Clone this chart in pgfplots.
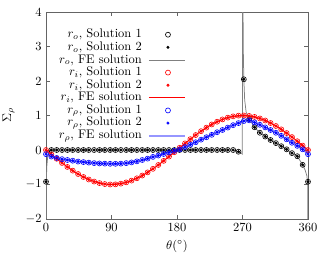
\documentclass[border=0pt]{standalone}
\usepackage{pgfplots}
\usepackage{pgfplotstable}
\pgfplotsset{compat=1.18}
\definecolor{axgray}{RGB}{100,100,100}
\definecolor{fegray}{RGB}{128,128,128}
\definecolor{lblue}{RGB}{150,150,255}
\definecolor{fered}{RGB}{255,0,0}
\pgfplotstableread{
th ro ri rp
0 -0.92 0 -0.12
7.347 0 -0.1279 -0.19
14.694 0 -0.2536 -0.23
22.041 0 -0.3753 -0.265
29.388 0 -0.4907 -0.29
36.735 0 -0.5981 -0.31
44.082 0 -0.6956 -0.335
51.429 0 -0.7818 -0.35
58.776 0 -0.8551 -0.365
66.122 0 -0.9144 -0.38
73.469 0 -0.9587 -0.39
80.816 0 -0.9872 -0.395
88.163 0 -0.9995 -0.40
95.510 0 -0.9954 -0.40
102.857 0 -0.9749 -0.395
110.204 0 -0.9385 -0.38
117.551 0 -0.8866 -0.36
124.898 0 -0.8202 -0.33
132.245 0 -0.7403 -0.29
139.592 0 -0.6482 -0.25
146.939 0 -0.5455 -0.20
154.286 0 -0.4339 -0.16
161.633 0 -0.3151 -0.115
168.980 0 -0.1912 -0.07
176.327 0 -0.0641 -0.025
183.673 0 0.0641 0.015
191.020 0 0.1912 0.085
198.367 0 0.3151 0.155
205.714 0 0.4339 0.225
213.061 0 0.5455 0.30
220.408 0 0.6482 0.37
227.755 0 0.7403 0.44
235.102 0 0.8202 0.515
242.449 0 0.8866 0.58
249.796 0 0.9385 0.65
257.143 0 0.9749 0.72
264.490 -0.05 0.9954 0.78
271.837 2.05 0.9995 0.84
279.184 0.90 0.9872 0.86
286.531 0.66 0.9587 0.80
293.878 0.50 0.9144 0.73
301.224 0.39 0.8551 0.655
308.571 0.29 0.7818 0.58
315.918 0.20 0.6956 0.50
323.265 0.11 0.5981 0.41
330.612 0.02 0.4907 0.31
337.959 -0.09 0.3753 0.21
345.306 -0.18 0.2536 0.12
352.653 -0.43 0.1279 0.02
360 -0.92 0 -0.12
}\pts
\pgfplotstableread{
th ro
0 -3
0.3 -1.2
1 -0.5
2.5 -0.15
5 -0.03
10 0
255 0
260 -0.02
265 -0.06
269 -0.1
269.8 -0.12
270 6
270.4 6
271.0 3.0
271.837 2.05
273 1.45
275 1.1
279.184 0.90
286.531 0.66
293.878 0.50
301.224 0.39
308.571 0.29
315.918 0.20
323.265 0.11
330.612 0.02
337.959 -0.09
345.306 -0.18
352.653 -0.43
356 -0.58
358.5 -0.75
359.6 -1.0
360 -3
}\fero
\pgfplotsset{
 solA/.style={only marks, mark=o, mark size=2bp, mark options={line width=0.5bp}},
 solB/.style={only marks, mark=*, mark size=1bp},
 feL/.style={no markers},
}
\begin{document}
\begin{tikzpicture}
\begin{axis}[
 at={(36.8bp,32.8bp)}, anchor=south west,
 scale only axis, width=209.6bp, height=165.6bp,
 xmin=0, xmax=360, ymin=-2, ymax=4,
 xtick={0,90,180,270,360}, ytick={-2,-1,0,1,2,3,4},
 tick align=inside, major tick length=3.2bp,
 axis line style={axgray, line width=0.7bp},
 every tick/.style={axgray, line width=0.6bp},
 xlabel={$\theta(^\circ)$}, ylabel={$\Sigma_\rho$},
 ylabel style={yshift=2bp},
]
% data
\addplot[solA, black] table[x=th, y=ro] {\pts};
\addplot[solB, black] table[x=th, y=ro] {\pts};
\addplot[feL, fegray, line width=0.6bp] table[x=th, y=ro] {\fero};
\addplot[solA, red] table[x=th, y=ri] {\pts};
\addplot[solB, red] table[x=th, y=ri] {\pts};
\addplot[feL, draw=fered, line width=0.8bp] table[x=th, y=ri] {\pts};
\addplot[solA, blue] table[x=th, y=rp] {\pts};
\addplot[solB, blue] table[x=th, y=rp] {\pts};
\addplot[feL, lblue, line width=1.5bp] table[x=th, y=rp] {\pts};
% legend samples
\addplot[solA, black] coordinates {(167.6,3.342)};
\addplot[solB, black] coordinates {(167.6,2.976)};
\addplot[feL, fegray, line width=0.6bp] coordinates {(141.5,2.610) (191.0,2.610)};
\addplot[solA, red] coordinates {(167.6,2.244)};
\addplot[solB, red] coordinates {(167.6,1.878)};
\addplot[feL, draw=fered, line width=0.8bp] coordinates {(141.5,1.512) (191.0,1.512)};
\addplot[solA, blue] coordinates {(167.6,1.146)};
\addplot[solB, blue] coordinates {(167.6,0.780)};
\addplot[feL, lblue, line width=1.5bp] coordinates {(141.5,0.414) (191.0,0.414)};
% legend texts
\node[anchor=east, inner sep=0pt] at (axis cs:131.9,3.342) {$r_o$, Solution 1};
\node[anchor=east, inner sep=0pt] at (axis cs:131.9,2.976) {$r_o$, Solution 2};
\node[anchor=east, inner sep=0pt] at (axis cs:131.9,2.610) {$r_o$, FE solution};
\node[anchor=east, inner sep=0pt] at (axis cs:131.9,2.244) {$r_i$, Solution 1};
\node[anchor=east, inner sep=0pt] at (axis cs:131.9,1.878) {$r_i$, Solution 2};
\node[anchor=east, inner sep=0pt] at (axis cs:131.9,1.512) {$r_i$, FE solution};
\node[anchor=east, inner sep=0pt] at (axis cs:131.9,1.146) {$r_\rho$, Solution 1};
\node[anchor=east, inner sep=0pt] at (axis cs:131.9,0.780) {$r_\rho$, Solution 2};
\node[anchor=east, inner sep=0pt] at (axis cs:131.9,0.414) {$r_\rho$, FE solution};
\end{axis}
\pgfresetboundingbox
\useasboundingbox (0,0) rectangle (264bp,208bp);
\end{tikzpicture}
\end{document}
